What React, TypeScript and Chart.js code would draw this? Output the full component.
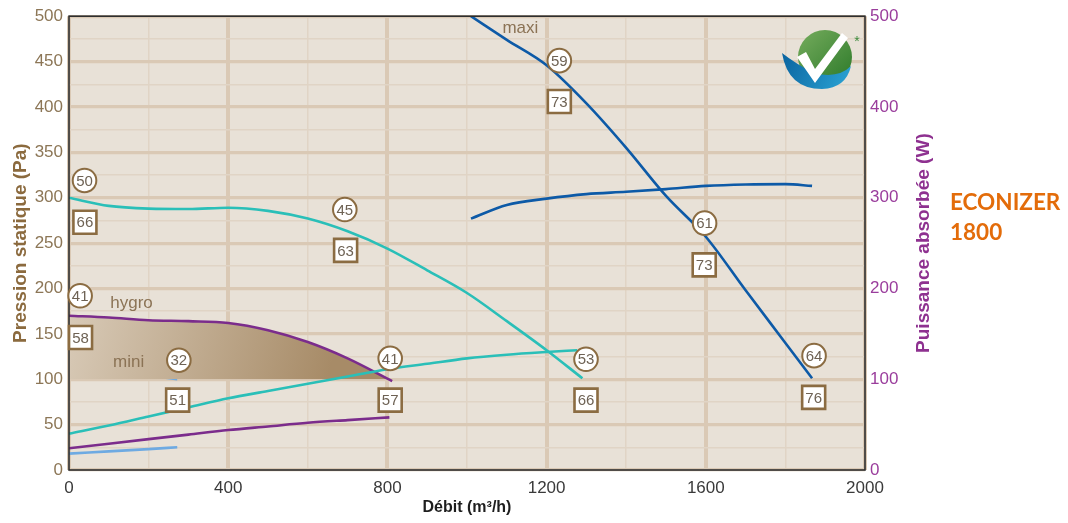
import React, { useEffect, useRef } from 'react';
import { Chart, registerables } from 'chart.js';

Chart.register(...registerables);

// ---- Data (flow in m³/h, pressure in Pa, power in W) ----
const xTicks = [0, 400, 800, 1200, 1600, 2000];
const yTicks = [0, 50, 100, 150, 200, 250, 300, 350, 400, 450, 500];

const maxiFlowP = [1010, 1100, 1200, 1300, 1400, 1500, 1600, 1700, 1800, 1867];
const maxiPressure = [500, 474, 446, 404, 355, 302, 257, 198, 140, 101];
const maxiFlowW = [1010, 1100, 1200, 1300, 1400, 1500, 1600, 1700, 1800, 1867];
const maxiPower = [277, 292, 299, 304, 306.5, 309.5, 313, 314.6, 315, 313];

const mediumFlowP = [0, 100, 200, 300, 400, 500, 600, 700, 800, 900, 1000, 1100, 1200, 1290];
const mediumPressure = [300, 291, 288, 287.5, 289, 285.5, 277, 263, 244, 220, 195, 164, 132, 101];
const mediumFlowW = [0, 100, 200, 300, 400, 500, 600, 700, 800, 900, 1000, 1100, 1200, 1277];
const mediumPower = [40, 49, 59, 69, 79, 87, 95, 103, 111, 117, 123, 127, 130, 132];

const hygroFlowP = [0, 100, 200, 300, 400, 500, 600, 700, 812];
const hygroPressure = [170, 168, 165, 164, 162, 154, 141, 123, 98];
const hygroFlowW = [0, 100, 200, 300, 400, 500, 600, 700, 805];
const hygroPower = [24, 29, 34, 39, 44, 48, 52, 55, 58];

const miniFlowP = [0, 100, 200, 272];
const miniPressure = [110, 107, 104, 100];
const miniFlowW = [0, 100, 200, 272];
const miniPower = [18, 20.5, 23, 25];

const circleTexts = ['50', '45', '41', '32', '41', '53', '59', '61', '64'];
const circleFlow = [39, 693, 28, 276, 807, 1299, 1232, 1597, 1872];
const circlePa = [319, 287, 192, 121, 123, 122, 451, 272, 126];

const squareTexts = ['66', '63', '58', '51', '57', '66', '73', '73', '76'];
const squareFlow = [40, 695, 29, 273, 807, 1299, 1232, 1596, 1871];
const squarePa = [273, 242, 146, 77, 77, 77, 406, 226, 80];

const curveNames = ['hygro', 'mini', 'maxi'];
const curveNameFlow = [157, 150, 1134];
const curveNamePa = [184, 119, 487];

const leftTitle = 'Pression statique (Pa)';
const rightTitle = 'Puissance absorbée (W)';
const xTitle = 'Débit (m³/h)';
const productLines = ['ECONIZER', '1800'];

const pts = (xs: number[], ys: number[]) => xs.map((x, i) => ({ x, y: ys[i] }));

const FONT = '"Liberation Sans", Arial, sans-serif';

const decorPlugin = {
  id: 'decor',
  beforeDraw(chart: any) {
    const { ctx, chartArea: a } = chart;
    ctx.save();
    ctx.fillStyle = '#e8e1d7';
    ctx.fillRect(a.left, a.top, a.right - a.left, a.bottom - a.top);
    ctx.restore();
  },
  afterDatasetsDraw(chart: any) {
    const { ctx, chartArea: a } = chart;
    const xs = chart.scales.x;
    const ys = chart.scales.y;
    ctx.save();
    // frame
    ctx.strokeStyle = '#2e2e2e';
    ctx.lineWidth = 1.6;
    ctx.strokeRect(a.left, a.top, a.right - a.left, a.bottom - a.top);

    // curve names
    ctx.font = `17px ${FONT}`;
    ctx.fillStyle = '#8b7355';
    ctx.textAlign = 'center';
    ctx.textBaseline = 'middle';
    curveNames.forEach((t, i) => {
      ctx.fillText(t, xs.getPixelForValue(curveNameFlow[i]), ys.getPixelForValue(curveNamePa[i]));
    });

    // badges
    const badge = (t: string, x: number, y: number, circle: boolean) => {
      ctx.fillStyle = '#ffffff';
      ctx.strokeStyle = '#8b6c42';
      ctx.beginPath();
      if (circle) {
        ctx.lineWidth = 2;
        ctx.arc(x, y, 11.8, 0, Math.PI * 2);
      } else {
        ctx.lineWidth = 2.6;
        ctx.rect(x - 11.5, y - 11.5, 23, 23);
      }
      ctx.fill();
      ctx.stroke();
      ctx.fillStyle = '#6e6254';
      ctx.font = `15px ${FONT}`;
      ctx.fillText(t, x, y + 1);
    };
    circleTexts.forEach((t, i) =>
      badge(t, xs.getPixelForValue(circleFlow[i]), ys.getPixelForValue(circlePa[i]), true)
    );
    squareTexts.forEach((t, i) =>
      badge(t, xs.getPixelForValue(squareFlow[i]), ys.getPixelForValue(squarePa[i]), false)
    );

    // logo
    const lg = ctx.createLinearGradient(800, 30, 850, 84);
    lg.addColorStop(0, '#74ab5c');
    lg.addColorStop(1, '#2d7a2a');
    ctx.fillStyle = lg;
    ctx.beginPath();
    ctx.arc(825, 57, 27, 0, Math.PI * 2);
    ctx.fill();
    const bg = ctx.createLinearGradient(782, 55, 851, 88);
    bg.addColorStop(0, '#0a64a0');
    bg.addColorStop(1, '#2ca5d5');
    ctx.fillStyle = bg;
    ctx.beginPath();
    ctx.moveTo(782, 53);
    ctx.quadraticCurveTo(788, 89, 822, 89);
    ctx.quadraticCurveTo(846, 88, 851, 66);
    ctx.quadraticCurveTo(838, 79, 814, 73);
    ctx.quadraticCurveTo(796, 64, 782, 53);
    ctx.fill();
    ctx.fillStyle = '#ffffff';
    ctx.beginPath();
    ctx.moveTo(797, 57);
    ctx.lineTo(806, 52);
    ctx.lineTo(815, 69);
    ctx.lineTo(842, 33);
    ctx.lineTo(848, 38);
    ctx.lineTo(815, 83);
    ctx.closePath();
    ctx.fill();
    ctx.fillStyle = '#3d8b3d';
    ctx.font = `14px ${FONT}`;
    ctx.fillText('*', 857, 42);

    // axis titles
    const cy = (a.top + a.bottom) / 2;
    ctx.font = `bold 19px ${FONT}`;
    ctx.fillStyle = '#8b6a3e';
    ctx.save();
    ctx.translate(21, cy);
    ctx.rotate(-Math.PI / 2);
    ctx.fillText(leftTitle, 0, 0);
    ctx.restore();
    ctx.fillStyle = '#8e3190';
    ctx.save();
    ctx.translate(924, cy);
    ctx.rotate(-Math.PI / 2);
    ctx.fillText(rightTitle, 0, 0);
    ctx.restore();
    ctx.fillStyle = '#1e1e1e';
    ctx.font = `bold 16px ${FONT}`;
    ctx.fillText(xTitle, (a.left + a.right) / 2, 508);

    // product name
    ctx.fillStyle = '#e36c0a';
    ctx.font = 'bold 22.5px Lato, "Open Sans", sans-serif';
    ctx.textAlign = 'left';
    ctx.fillText(productLines[0], 950, 203);
    ctx.fillText(productLines[1], 950, 233);
    ctx.restore();
  },
};

export default function App() {
  const ref = useRef<HTMLCanvasElement | null>(null);

  useEffect(() => {
    if (!ref.current) return;
    const gradientFill = (c: any) => {
      const chart = c.chart;
      if (!chart.chartArea || !chart.scales.x) return 'rgba(0,0,0,0)';
      const xs = chart.scales.x;
      const ys = chart.scales.y;
      const g = chart.ctx.createLinearGradient(
        xs.getPixelForValue(0), ys.getPixelForValue(175),
        xs.getPixelForValue(650), ys.getPixelForValue(100)
      );
      g.addColorStop(0, '#d8cab7');
      g.addColorStop(1, '#a78b67');
      return g;
    };
    const line = (data: any[], color: string, axis: string, extra: any = {}) => ({
      data,
      borderColor: color,
      borderWidth: 2.6,
      pointRadius: 0,
      cubicInterpolationMode: 'monotone',
      fill: false,
      yAxisID: axis,
      ...extra,
    });
    const chart = new Chart(ref.current, {
      type: 'line',
      data: {
        datasets: [
          line(pts(maxiFlowP, maxiPressure), '#0d5aa7', 'y'),
          line(pts(maxiFlowW, maxiPower), '#0d5aa7', 'y2'),
          line(pts(mediumFlowP, mediumPressure), '#2abfb8', 'y'),
          line(pts(mediumFlowW, mediumPower), '#2abfb8', 'y2'),
          line(pts(hygroFlowP, hygroPressure), '#7b2c8c', 'y', {
            backgroundColor: gradientFill,
            fill: { target: { value: 100 }, below: 'rgba(0,0,0,0)' },
          }),
          line(pts(hygroFlowW, hygroPower), '#7b2c8c', 'y2'),
          line(pts(miniFlowP, miniPressure), '#6eaae2', 'y'),
          line(pts(miniFlowW, miniPower), '#6eaae2', 'y2'),
        ] as any,
      },
      options: {
        animation: false,
        responsive: false,
        events: [],
        layout: { padding: { top: 16, right: 143, bottom: 0, left: 0 } },
        plugins: { legend: { display: false }, tooltip: { enabled: false } },
        scales: {
          x: {
            type: 'linear',
            min: 0,
            max: 2000,
            afterFit: (s: any) => { s.height = 53; },
            afterBuildTicks: (s: any) => {
              const t = [];
              for (let v = 0; v <= 2000; v += 200) t.push({ value: v });
              s.ticks = t;
            },
            ticks: {
              autoSkip: false,
              maxRotation: 0,
              padding: 8,
              color: '#3a3a3a',
              font: { size: 17, family: FONT },
              callback: (v: any) => (xTicks.includes(Number(v)) ? String(v) : ''),
            },
            grid: {
              drawTicks: false,
              color: (c: any) => (c.tick && c.tick.value % 400 === 0 ? '#dac9b5' : '#e0d4c5'),
              lineWidth: (c: any) => (c.tick && c.tick.value % 400 === 0 ? 4 : 1.5),
            },
            border: { display: false },
          },
          y: {
            type: 'linear',
            position: 'left',
            min: 0,
            max: 500,
            afterFit: (s: any) => { s.width = 69; },
            afterBuildTicks: (s: any) => {
              const t = [];
              for (let v = 0; v <= 500; v += 25) t.push({ value: v });
              s.ticks = t;
            },
            ticks: {
              autoSkip: false,
              padding: 6,
              color: '#8c7656',
              font: { size: 17, family: FONT },
              callback: (v: any) => (yTicks.includes(Number(v)) ? String(v) : ''),
            },
            grid: {
              drawTicks: false,
              color: (c: any) => (c.tick && c.tick.value % 50 === 0 ? '#dac9b5' : '#e0d4c5'),
              lineWidth: (c: any) => (c.tick && c.tick.value % 50 === 0 ? 3.2 : 1.5),
            },
            border: { display: false },
          },
          y2: {
            type: 'linear',
            position: 'right',
            min: 0,
            max: 500,
            afterFit: (s: any) => { s.width = 60; },
            ticks: {
              stepSize: 100,
              padding: 5,
              color: '#9a3d9c',
              font: { size: 17, family: FONT },
            },
            grid: { display: false, drawTicks: false },
            border: { display: false },
          },
        },
      } as any,
      plugins: [decorPlugin],
    });
    return () => chart.destroy();
  }, []);

  return (
    <div style={{ position: 'fixed', left: 0, top: 0, width: 1068, height: 523, background: '#ffffff' }}>
      <canvas ref={ref} width={1068} height={523} style={{ display: 'block' }} />
    </div>
  );
}
